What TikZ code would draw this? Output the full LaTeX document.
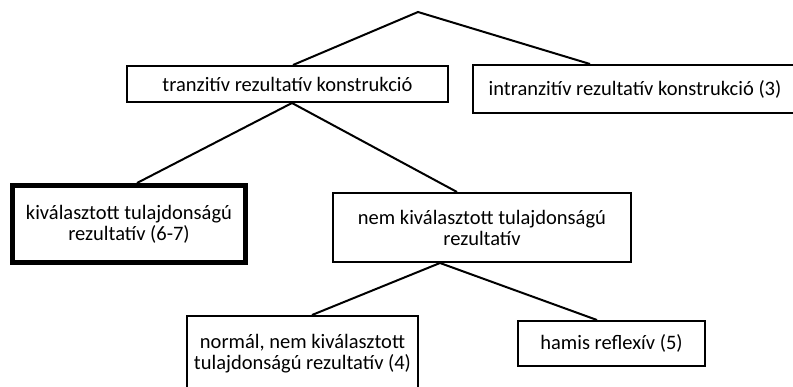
\documentclass[tikz,border=0pt]{standalone}
\usepackage{fontspec}
\setmainfont{Carlito}
\begin{document}
\begin{tikzpicture}[x=1pt,y=-1pt,
  box/.style={draw=black, line width=2pt, rectangle, inner sep=0pt, align=center,
    font=\fontsize{20.5}{21}\selectfont},
  boldbox/.style={box, line width=5pt},
  conn/.style={draw=black, line width=2pt}]
\useasboundingbox (0,0) rectangle (793,386);
\fill[white] (0,0) rectangle (793,386);
\coordinate (apex) at (418,12);
\node[box, minimum width=321pt, minimum height=36pt] (b1) at (287.5,84) {tranzitív rezultatív konstrukció};
\node[box, minimum width=324pt, minimum height=48pt] (b2) at (635,89) {intranzitív rezultatív konstrukció (3)};
\node[boldbox, minimum width=233pt, minimum height=77pt] (b3) at (129,224) {kiválasztott tulajdonságú\\rezultatív (6-7)};
\node[box, minimum width=298pt, minimum height=69pt] (b4) at (482,227.5) {nem kiválasztott tulajdonságú\\rezultatív};
\node[box, minimum width=231pt, minimum height=76pt] (b5) at (302.5,354) {normál, nem kiválasztott\\tulajdonságú rezultatív (4)};
\node[box, minimum width=187pt, minimum height=45pt] (b6) at (611.5,343.5) {hamis reflexív (5)};
\draw[conn] ([xshift=5.5pt]b1.north) -- (apex) -- ([xshift=-45pt]b2.north);
\draw[conn] ([xshift=8pt]b3.north) -- ([xshift=4.5pt]b1.south) -- ([xshift=-25pt]b4.north);
\draw[conn] ([xshift=9.5pt]b5.north) -- ([xshift=-42pt]b4.south) -- ([xshift=-14.5pt]b6.north);
\end{tikzpicture}
\end{document}
